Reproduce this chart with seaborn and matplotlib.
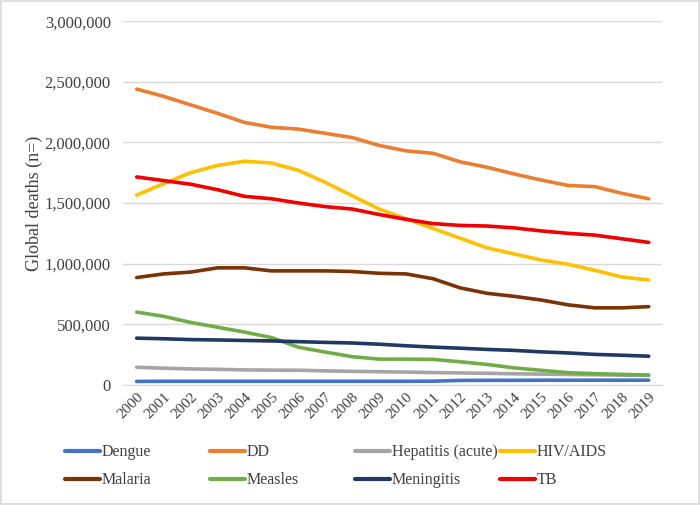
import pandas as pd
import matplotlib.pyplot as plt
import seaborn as sns
from matplotlib.ticker import FuncFormatter

years = list(range(2000, 2020))

dengue = [28000, 29000, 29000, 29000, 29000, 29000, 29000, 29000, 29000, 29000,
          29000, 30000, 36000, 37000, 37000, 38000, 38000, 38000, 38000, 38000]
dd = [2440000, 2380000, 2310000, 2240000, 2165000, 2125000, 2110000, 2075000, 2040000, 1975000,
      1930000, 1910000, 1840000, 1795000, 1740000, 1690000, 1645000, 1635000, 1580000, 1535000]
hepatitis = [145000, 137000, 131000, 128000, 123000, 121000, 120000, 115000, 111000, 108000,
             105000, 101000, 98000, 95000, 91000, 88000, 85000, 83000, 80000, 78000]
hiv = [1565000, 1660000, 1750000, 1810000, 1845000, 1830000, 1770000, 1670000, 1560000, 1450000,
       1370000, 1290000, 1210000, 1130000, 1080000, 1030000, 995000, 945000, 890000, 865000]
malaria = [885000, 915000, 930000, 965000, 965000, 940000, 940000, 940000, 935000, 920000,
           915000, 875000, 800000, 755000, 730000, 700000, 660000, 635000, 635000, 645000]
measles = [600000, 565000, 515000, 475000, 435000, 390000, 310000, 270000, 232000, 212000,
           212000, 210000, 190000, 168000, 140000, 120000, 100000, 92000, 86000, 80000]
meningitis = [385000, 380000, 373000, 370000, 366000, 362000, 356000, 350000, 345000, 335000,
              322000, 311000, 302000, 292000, 284000, 272000, 263000, 251000, 244000, 236000]
tb = [1715000, 1685000, 1655000, 1610000, 1555000, 1535000, 1500000, 1470000, 1450000, 1405000,
      1365000, 1330000, 1315000, 1310000, 1295000, 1270000, 1250000, 1235000, 1205000, 1175000]

diseases = ["Dengue", "DD", "Hepatitis (acute)", "HIV/AIDS", "Malaria", "Measles", "Meningitis", "TB"]
series = [dengue, dd, hepatitis, hiv, malaria, measles, meningitis, tb]
colors = ["#4472C4", "#ED7D31", "#A5A5A5", "#FFC000", "#7B3306", "#70AD47", "#1F3864", "#F00000"]

rows = []
for name, vals in zip(diseases, series):
    for i, v in enumerate(vals):
        rows.append({"idx": i, "Disease": name, "Deaths": v})
df = pd.DataFrame(rows)

sns.set_style("white")
plt.rcParams['font.family'] = ['Liberation Serif', 'DejaVu Serif']

fig = plt.figure(figsize=(7, 5.05), dpi=100)
ax = fig.add_axes([0.176, 0.238, 0.770, 0.720])

sns.lineplot(data=df, x="idx", y="Deaths", hue="Disease", hue_order=diseases,
             palette=colors, linewidth=2.6, ax=ax, legend=False, zorder=3)
for ln in ax.get_lines():
    ln.set_solid_capstyle("round")
    ln.set_solid_joinstyle("round")

ax.set_xlim(-0.5, 19.5)
ax.set_ylim(0, 3000000)
ax.set_yticks(range(0, 3000001, 500000))
ax.yaxis.set_major_formatter(FuncFormatter(lambda v, p: f"{int(v):,}"))
ax.set_xticks(range(len(years)))
ax.set_xticklabels([str(y) for y in years], rotation=45, ha="right",
                   rotation_mode="anchor", fontsize=11, color="#404040")
ax.tick_params(axis="y", labelsize=12, labelcolor="#404040", length=0, pad=9)
ax.tick_params(axis="x", length=0, pad=4)
ax.grid(axis="y", color="#D9D9D9", linewidth=1)
for s in ["top", "right", "left"]:
    ax.spines[s].set_visible(False)
ax.spines["bottom"].set_color("#D9D9D9")
ax.set_xlabel("")
ax.set_ylabel("Global deaths (n=)", fontsize=13, color="#404040", labelpad=1)

# legend: four columns of equal width, two rows, like Excel
col_x = [0.093, 0.300, 0.507, 0.714]
for c in range(4):
    idx = [c, c + 4]
    hs = [plt.Line2D([0], [0], color=colors[i], linewidth=3, solid_capstyle="round") for i in idx]
    fig.legend(hs, [diseases[i] for i in idx], loc="center left", bbox_to_anchor=(col_x[c], 0.077),
               frameon=False, fontsize=11.5, handlelength=2.2, handletextpad=0.1,
               borderpad=0, borderaxespad=0, labelspacing=0.75, labelcolor="#404040")

fig.patches.append(plt.Rectangle((0.002, 0.002), 0.996, 0.996, transform=fig.transFigure,
                                 fill=False, edgecolor="#D9D9D9", linewidth=1.2))

fig.savefig("out.png", dpi=100)
